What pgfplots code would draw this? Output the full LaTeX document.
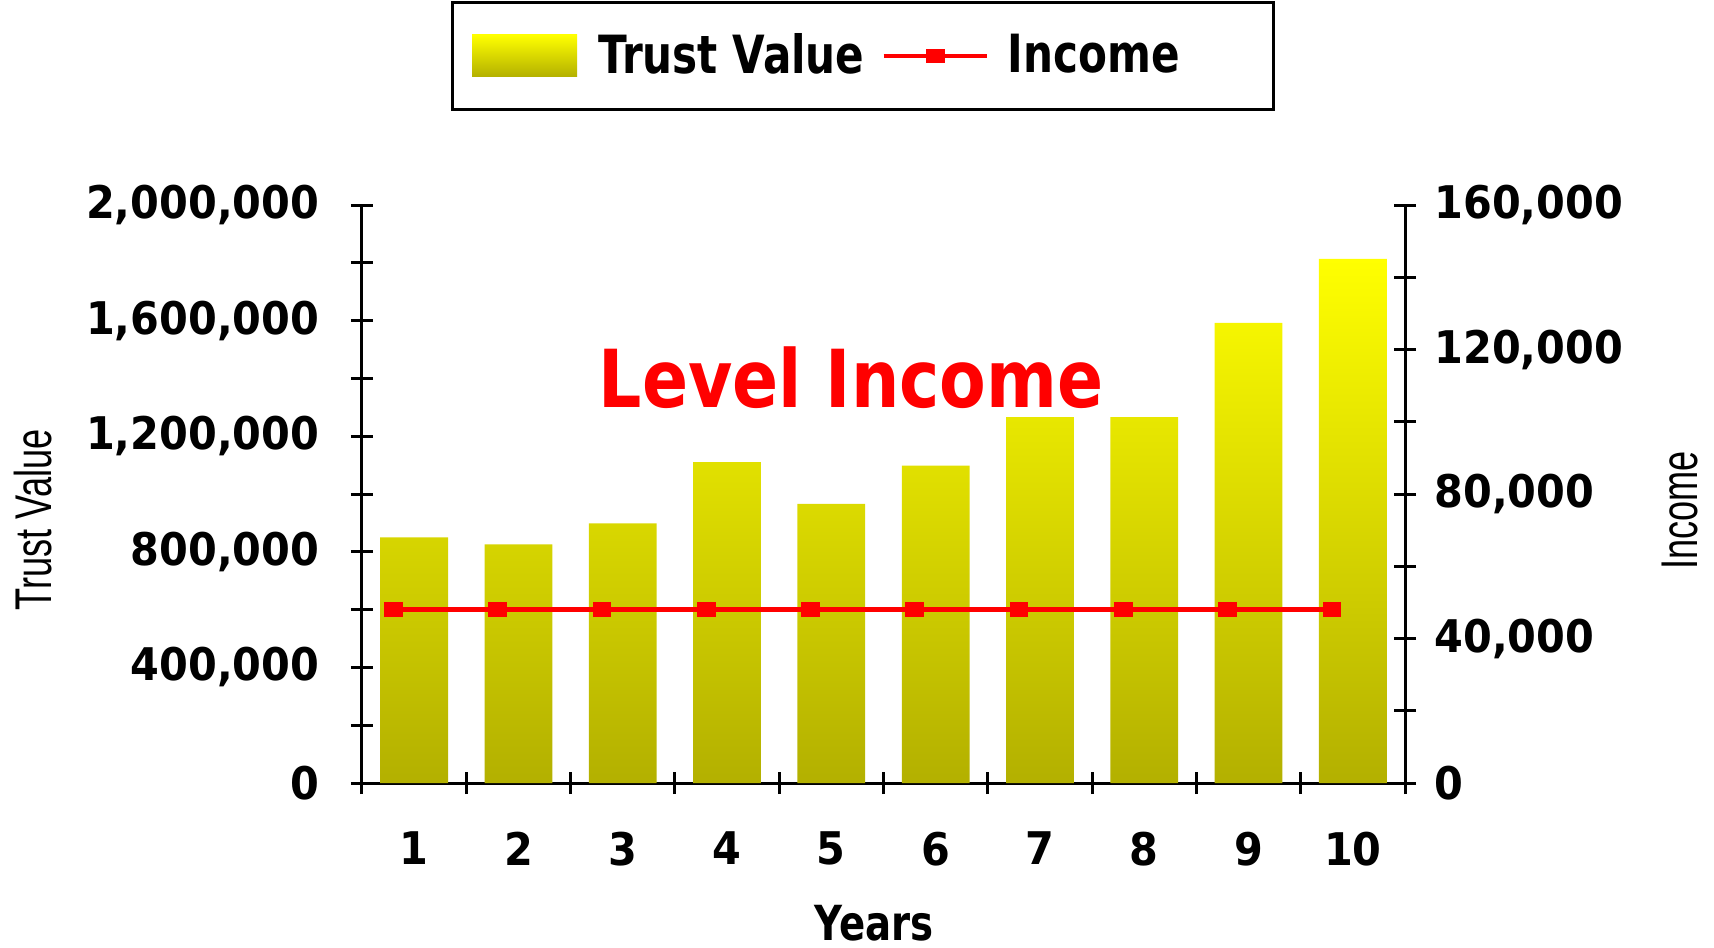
\documentclass[border=0pt]{standalone}
\usepackage{pgfplots}
\pgfplotsset{compat=1.18}
\usepackage{fontspec}
\setmainfont{DejaVu Sans}
\newfontfamily\tickfont[FakeStretch=0.92]{DejaVu Sans Bold}
\newfontfamily\boldfont[FakeStretch=0.8]{DejaVu Sans Bold}
\newfontfamily\titlefont[FakeStretch=0.85]{DejaVu Sans Bold}
\newfontfamily\narrowfont[FakeStretch=0.7]{Liberation Sans}
\definecolor{bartop}{HTML}{FFFF00}
\definecolor{barbot}{HTML}{B3B000}
\definecolor{incred}{HTML}{FF0000}

\pgfplotsset{
  base/.style={
    width=312.9pt, height=173.4pt, scale only axis,
    xmin=0.5, xmax=10.5,
    tick style={line width=0.9pt, black},
    tick align=center,
    major tick length=6.6pt, minor tick length=6.6pt,
    scaled y ticks=false,
    tick label style={font=\fontsize{13.5}{15}\selectfont\tickfont},
    /pgf/number format/fixed,
    /pgf/number format/precision=0,
    /pgf/number format/1000 sep={,},
    /pgf/number format/assume math mode=true,
  },
  incleg/.style={legend image code/.code={\draw[mark repeat=2, mark phase=2, ##1]
    plot coordinates {(0pt,0pt) (15.5pt,0pt) (31pt,0pt)};}},
  barleg/.style={legend image code/.code={\shade[top color=bartop, bottom color=barbot]
    (0pt,-6.3pt) rectangle (31.5pt,6.3pt);}},
}

\begin{document}
\begin{tikzpicture}
\useasboundingbox (-108.6pt,-49.2pt) rectangle (405.6pt,234.9pt);

% trust value bars, left axis
\begin{axis}[base,
  axis x line=bottom, axis y line=left,
  axis line style={line width=0.9pt, -},
  ymin=0, ymax=2000000,
  ytick={0,400000,800000,1200000,1600000,2000000}, minor y tick num=1,
  yticklabel style={xshift=-6pt},
  xtick={1,2,3,4,5,6,7,8,9,10},
  minor xtick={0.5,1.5,2.5,3.5,4.5,5.5,6.5,7.5,8.5,9.5,10.5},
  major x tick style={draw=none},
  xticklabel style={yshift=-7.9pt},
  xlabel={Years},
  xlabel style={at={(axis description cs:0.491,-0.272)}, anchor=base,
    font=\fontsize{14.5}{16}\selectfont\boldfont},
  ylabel={Trust Value},
  every axis y label/.style={at={(axis description cs:-0.315,0.455)},
    anchor=center, rotate=90, font=\fontsize{15.5}{18}\selectfont\narrowfont},
  legend columns=2,
  legend style={at={(axis description cs:0.480,1.258)}, anchor=center,
    draw=black, line width=0.9pt, inner xsep=6pt, inner ysep=7.3pt,
    font=\fontsize{15.8}{17}\selectfont\boldfont,
    /tikz/every even column/.append style={column sep=3pt}},
]
\addplot[ybar, bar width=0.65, draw=none, top color=bartop, bottom color=barbot,
  barleg] coordinates {
  (1,850000) (2,826000) (3,898000) (4,1110000) (5,966000)
  (6,1098000) (7,1266000) (8,1266000) (9,1592000) (10,1814000)
};
\addlegendentry{\hspace{4.3pt}Trust Value}
\addlegendimage{incred, line width=1.4pt, mark=square*, mark size=2.1pt,
  mark options={yscale=0.7}, incleg}
\addlegendentry{\hspace{3.6pt}Income\hspace{20pt}\mbox{}}
\node[anchor=base, text=incred, font=\fontsize{24}{26}\selectfont\titlefont]
  at (axis description cs:0.469,0.649) {Level Income};
\end{axis}

% income line, right axis (points sit left of the bar centres)
\begin{axis}[base,
  axis x line=none, axis y line=right, xtick=\empty,
  axis line style={line width=0.9pt, -},
  ymin=0, ymax=160000,
  ytick={0,40000,80000,120000,160000}, minor y tick num=1,
  yticklabel style={xshift=2pt},
  ylabel={Income},
  every axis y label/.style={at={(axis description cs:1.264,0.472)},
    anchor=center, rotate=90, font=\fontsize{15.5}{18}\selectfont\narrowfont},
]
\addplot[incred, line width=1.4pt, mark=square*, mark size=2.1pt,
  mark options={yscale=0.7}] coordinates {
  (0.8,48000) (1.8,48000) (2.8,48000) (3.8,48000) (4.8,48000)
  (5.8,48000) (6.8,48000) (7.8,48000) (8.8,48000) (9.8,48000)
};
\end{axis}
\end{tikzpicture}
\end{document}
